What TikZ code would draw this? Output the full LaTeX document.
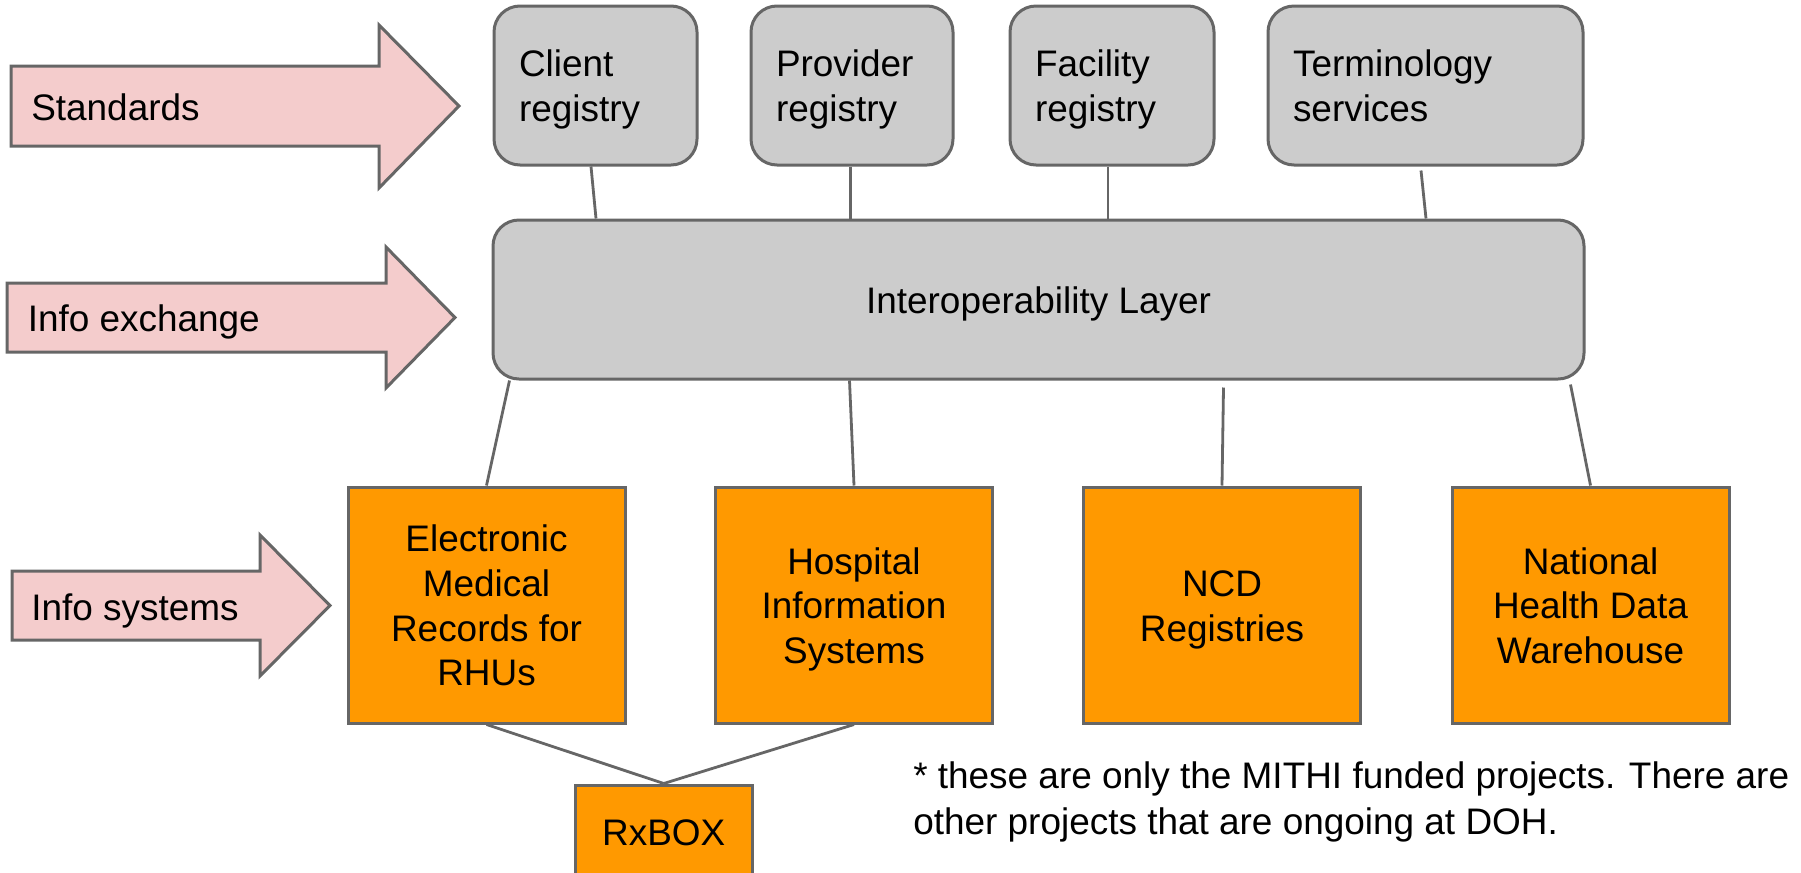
\documentclass[tikz,border=0pt]{standalone}
\usepackage{fontspec}
\setmainfont{Liberation Sans}
\usetikzlibrary{calc}
\definecolor{pinkfill}{HTML}{F4CCCC}
\definecolor{grayfill}{HTML}{CCCCCC}
\definecolor{orangefill}{HTML}{FF9900}
\definecolor{edgegray}{HTML}{666666}
\newcommand\lnstrut{\rule[-6pt]{0pt}{32.5pt}}
\begin{document}
\begin{tikzpicture}[x=0.75pt,y=-0.75pt,
  font=\fontsize{27.7}{33.5}\selectfont,
  every node/.style={text=black},
  regbox/.style={draw=edgegray, line width=2.25pt, fill=grayfill, rounded corners=19.5pt,
    align=left, inner xsep=18.75pt, inner ysep=0pt, minimum height=119.25pt, text width=#1},
  layerbox/.style={draw=edgegray, line width=2.25pt, fill=grayfill, rounded corners=19.5pt,
    align=center, minimum width=818.25pt, minimum height=119.25pt},
  sysbox/.style={draw=edgegray, line width=2.25pt, fill=orangefill, align=center,
    minimum width=207.75pt, minimum height=177pt, inner sep=0pt},
  bigarrow/.style={draw=edgegray, line width=2.25pt, fill=pinkfill, line join=miter},
  arrowtext/.style={anchor=base west, inner sep=0pt},
  conn/.style={draw=edgegray, line width=2.1pt},
  note/.style={anchor=base west, inner sep=0pt}]
\useasboundingbox (0,0) rectangle (1801,872);
\clip (0,0) rectangle (1801,872);
\fill[white] (0,0) rectangle (1801,872);

% left arrows
\draw[bigarrow] (11,66) -- (379,66) -- (379,25) -- (459,106) -- (379,188) -- (379,146) -- (11,146) -- cycle;
\node[arrowtext] (standards) at (31,120) {Standards};
\draw[bigarrow] (7,283) -- (386,283) -- (386,247) -- (455,317.5) -- (386,388) -- (386,352) -- (7,352) -- cycle;
\node[arrowtext] (infoex) at (27.5,331.5) {Info exchange};
\draw[bigarrow] (12,571) -- (260,571) -- (260,535) -- (330,605.5) -- (260,676) -- (260,640) -- (12,640) -- cycle;
\node[arrowtext] (infosys) at (31,620) {Info systems};

% registries
\node[regbox=114.75pt] (client) at (595.5,85.5) {\lnstrut Client\\registry\lnstrut};
\node[regbox=114pt] (provider) at (852,85.5) {\lnstrut Provider\\registry\lnstrut};
\node[regbox=115.5pt] (facility) at (1112,85.5) {\lnstrut Facility\\registry\lnstrut};
\node[regbox=198.75pt] (term) at (1425.5,85.5) {\lnstrut Terminology\\services\lnstrut};

% interoperability layer
\node[layerbox] (il) at (1038.5,299.5) {\lnstrut Interoperability Layer\lnstrut};

% systems
\node[sysbox] (emr) at (486.5,605) {\lnstrut Electronic\\Medical\\Records for\\RHUs\lnstrut};
\node[sysbox] (his) at (854,605) {\lnstrut Hospital\\Information\\Systems\lnstrut};
\node[sysbox] (ncd) at (1222,605) {\lnstrut NCD\\Registries\lnstrut};
\node[sysbox] (nhdw) at (1590.5,605) {\lnstrut National\\Health Data\\Warehouse\lnstrut};
\node[sysbox, minimum width=132.375pt, minimum height=69.75pt] (rx) at (663.75,831.5) {\lnstrut RxBOX\lnstrut};

% connectors top
\draw[conn] ($(client.south)+(-4.5,0)$) -- ($(client.south |- il.north)+(0.5,0)$);
\draw[conn] ($(provider.south)+(-1.5,0)$) -- ($(provider.south |- il.north)+(-1.5,0)$);
\draw[conn] ($(facility.south)+(-4,0)$) -- ($(facility.south |- il.north)+(-4,0)$);
\draw[conn] ($(term.south)+(-4.5,4)$) -- ($(term.south |- il.north)+(0.5,0)$);

% connectors bottom
\draw[conn] ($(il.south west)+(18,0)$) -- (emr.north);
\draw[conn] ($(il.south west)+(358,0)$) -- (his.north);
\draw[conn] ($(il.south west)+(732,7)$) -- (ncd.north);
\draw[conn] ($(il.south east)+(-15,4)$) -- (nhdw.north);

% RxBOX connectors
\draw[conn] (emr.south) -- (rx.north);
\draw[conn] (his.south) -- (rx.north);

% note
\node[note] (note1) at (913,788) {* these are only the MITHI funded projects. There are};
\node[note] (note2) at (913,834) {other projects that are ongoing at DOH.};
\end{tikzpicture}
\end{document}
